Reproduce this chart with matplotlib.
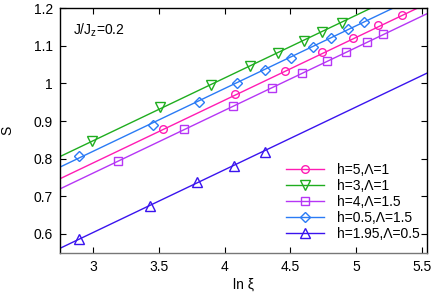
import numpy as np
import matplotlib
matplotlib.use("Agg")
import matplotlib.pyplot as plt

plt.rcParams['font.family'] = ['Liberation Sans', 'DejaVu Sans']
plt.rcParams['mathtext.fontset'] = 'custom'
plt.rcParams['mathtext.rm'] = 'Liberation Sans'
plt.rcParams['mathtext.it'] = 'Liberation Sans'

labels = ["h=5,Λ=1", "h=3,Λ=1", "h=4,Λ=1.5", "h=0.5,Λ=1.5", "h=1.95,Λ=0.5"]
colors = ["#ff1cb4", "#1fad1f", "#b636f5", "#2a7bf5", "#3a14ee"]
markers = ["o", "v", "s", "D", "^"]

x_h5 = [3.534, 4.082, 4.458, 4.738, 4.980, 5.169, 5.347]
S_h5 = [0.878, 0.971, 1.032, 1.083, 1.120, 1.156, 1.182]

x_h3 = [2.988, 3.504, 3.896, 4.196, 4.405, 4.608, 4.743, 4.896]
S_h3 = [0.848, 0.937, 0.996, 1.047, 1.082, 1.113, 1.138, 1.162]

x_h4 = [3.191, 3.687, 4.061, 4.362, 4.586, 4.776, 4.927, 5.082, 5.209]
S_h4 = [0.794, 0.879, 0.941, 0.989, 1.029, 1.060, 1.085, 1.110, 1.132]

x_h05 = [2.893, 3.453, 3.807, 4.093, 4.308, 4.502, 4.672, 4.807, 4.942, 5.061]
S_h05 = [0.806, 0.890, 0.952, 1.001, 1.035, 1.068, 1.096, 1.122, 1.144, 1.163]

x_h195 = [2.893, 3.433, 3.789, 4.069, 4.305]
S_h195 = [0.587, 0.673, 0.7375, 0.781, 0.819]

# fit lines S = (c/6) ln xi + b, with c = 1
central_charge = 1.0
intercepts = [0.289, 0.348, 0.262, 0.320, 0.104]

xs = [x_h5, x_h3, x_h4, x_h05, x_h195]
Ss = [S_h5, S_h3, S_h4, S_h05, S_h195]

xticks = [3, 3.5, 4, 4.5, 5, 5.5]
xticklabels = ["3", "3.5", "4", "4.5", "5", "5.5"]
yticks = [0.6, 0.7, 0.8, 0.9, 1.0, 1.1, 1.2]
yticklabels = ["0.6", "0.7", "0.8", "0.9", "1", "1.1", "1.2"]

fig = plt.figure(figsize=(4.36, 2.95), dpi=100)
ax = fig.add_axes([0.1376, 0.1434, 0.8414, 0.8285])

xmin, xmax = 2.746, 5.54
xline = np.linspace(xmin, xmax, 50)
msizes = [5.5, 6.5, 5.5, 5.0, 6.5]
for x, S, b, c, m, lab, ms in zip(xs, Ss, intercepts, colors, markers, labels, msizes):
    ax.plot(xline, central_charge / 6 * xline + b, color=c, lw=1.0, zorder=2)
    ax.plot(x, S, linestyle='none', marker=m, markersize=ms, markerfacecolor='none',
            markeredgecolor=c, markeredgewidth=1.0, zorder=3)
    ax.plot([], [], color=c, lw=1.0, marker=m, markersize=ms, markerfacecolor='none',
            markeredgecolor=c, markeredgewidth=1.0, label=lab)

fs = 10
ax.set_xlim(xmin, xmax)
ax.set_ylim(0.55, 1.2)
ax.set_xticks(xticks)
ax.set_xticklabels(xticklabels)
ax.set_yticks(yticks)
ax.set_yticklabels(yticklabels)
ax.tick_params(direction='in', top=True, right=True, length=4, width=0.8,
               labelsize=fs, pad=5)
for s in ax.spines.values():
    s.set_linewidth(1.0)
ax.spines['bottom'].set_color('#777777')

ax.set_xlabel("ln ξ", fontsize=fs, labelpad=3)
ax.set_ylabel("S", fontsize=fs, labelpad=14)
ax.text(0.036, 0.91, "J/J$_\\mathregular{z}$=0.2", transform=ax.transAxes, fontsize=fs,
        ha='left', va='center')

ax.legend(loc='lower right', bbox_to_anchor=(1.0, 0.02), frameon=False, fontsize=fs,
          handlelength=2.7, handletextpad=0.95, labelspacing=0.15, borderpad=0.4,
          borderaxespad=0.1)

fig.savefig("out.png", dpi=100)
